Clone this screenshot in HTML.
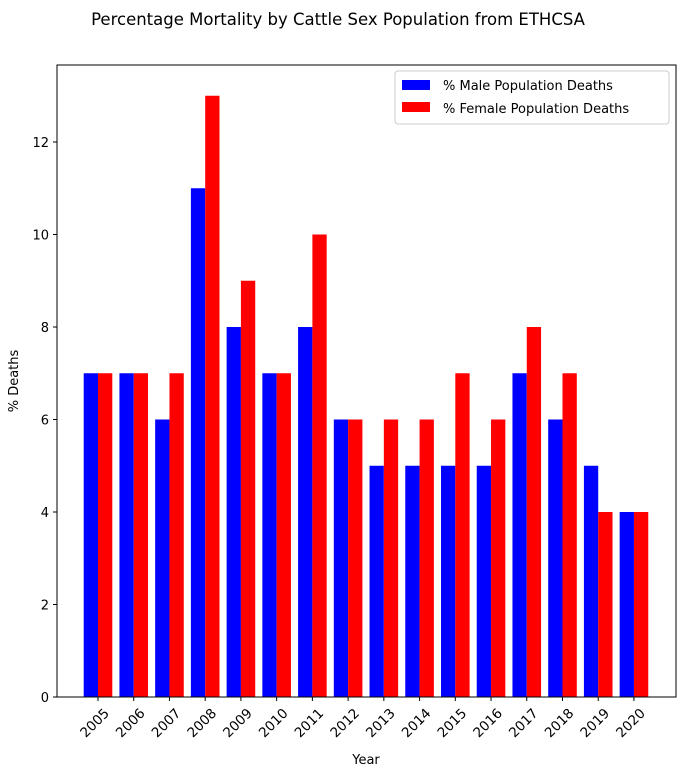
<!DOCTYPE html>
<html><head><meta charset="utf-8"><style>
html,body{margin:0;padding:0;background:#fff;}
svg{display:block;font-family:"DejaVu Sans","Liberation Sans",sans-serif;}
</style></head><body>
<svg id="chart" width="691" height="775">
<text x="338" y="25" text-anchor="middle" font-size="16.5">Percentage Mortality by Cattle Sex Population from ETHCSA</text>
<g id="plot"></g>
<text x="18" y="381" text-anchor="middle" font-size="13" transform="rotate(-90 18 381)">% Deaths</text>
<text x="366" y="764" text-anchor="middle" font-size="13">Year</text>
<g>
<rect x="395" y="71" width="274" height="53" fill="#fff" stroke="#ccc" rx="3"/>
<rect x="402" y="80" width="28" height="10" fill="#0000ff"/>
<text x="443" y="90" font-size="13">% Male Population Deaths</text>
<rect x="402" y="102" width="28" height="10" fill="#ff0000"/>
<text x="443" y="113" font-size="13">% Female Population Deaths</text>
</g>
<rect x="57" y="65" width="619" height="632" fill="none" stroke="#000" stroke-width="1"/>
</svg>
<script>
const years = [2005,2006,2007,2008,2009,2010,2011,2012,2013,2014,2015,2016,2017,2018,2019,2020];
const maleDeaths = [7,7,6,11,8,7,8,6,5,5,5,5,7,6,5,4];
const femaleDeaths = [7,7,7,13,9,7,10,6,6,6,7,6,8,7,4,4];
const yTicks = [0,2,4,6,8,10,12];

const NS = "http://www.w3.org/2000/svg";
const g = document.getElementById('plot');
const x0 = 98, dx = 35.73, bw = 14.3;
function xScale(i){ return x0 + i*dx; }
function yScale(v){ return 697 - v*46.25; }
function mk(tag, attrs){ const e=document.createElementNS(NS,tag); for(const k in attrs) e.setAttribute(k,attrs[k]); g.appendChild(e); return e; }

yTicks.forEach(t=>{
  const y=yScale(t);
  const tk=mk('line',{x1:53,x2:57,y1:y,y2:y,stroke:'#000'});
  
  
  const lb=mk('text',{x:49,y:y+5,'text-anchor':'end','font-size':'13'});
  lb.textContent=t;
  
  
});

years.forEach((yr,i)=>{
  const cx=xScale(i);
  const m=mk('rect',{x:cx-bw,y:yScale(maleDeaths[i]),width:bw,height:yScale(0)-yScale(maleDeaths[i]),fill:'#0000ff'});
  
  
  const f=mk('rect',{x:cx,y:yScale(femaleDeaths[i]),width:bw,height:yScale(0)-yScale(femaleDeaths[i]),fill:'#ff0000'});
  
  
  const tk=mk('line',{x1:cx,x2:cx,y1:697,y2:701,stroke:'#000'});
  
  
  const ax=cx+12, ay=714;
  const lb=mk('text',{x:ax,y:ay,'text-anchor':'end','font-size':'13.5',transform:'rotate(-45 '+ax+' '+ay+')'});
  lb.textContent=yr;
  
  
});
</script>
</body></html>
